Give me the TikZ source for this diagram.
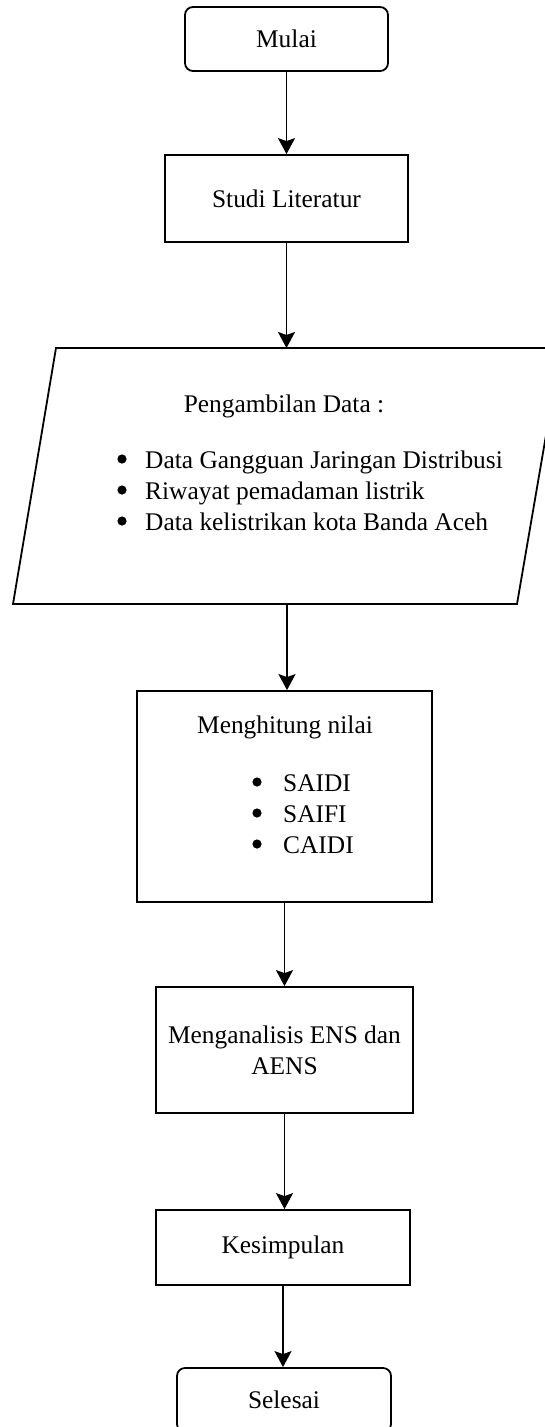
\documentclass[tikz,border=0pt]{standalone}
\usepackage{fontspec}
\setmainfont{Liberation Serif}
\usetikzlibrary{arrows.meta,calc}
\newcommand\fsz{\fontsize{25.4}{31}\selectfont}
\begin{document}
\begin{tikzpicture}[x=1pt,y=-1pt,
  box/.style={draw, line width=1.8pt, inner sep=0pt, font=\fsz, align=center},
  term/.style={box, rounded corners=8pt},
  txt/.style={inner sep=0pt, font=\fsz},
  edge/.style={line width=1.8pt},
  dot/.style={fill=black},
  arr/.style={line width=1.8pt, -{Stealth[length=16pt,width=17pt,inset=3pt]}}]
\useasboundingbox (0,0) rectangle (545,1427);
\clip (0,0) rectangle (545,1427);
\fill[white] (0,0) rectangle (545,1427);

% terminators and process boxes
\node[term, minimum width=203pt, minimum height=64pt] (mulai) at (286.5,39) {Mulai};
\node[box, minimum width=243pt, minimum height=87pt] (studi) at (286.5,198.5) {Studi Literatur};

% data (parallelogram)
\coordinate (pTL) at (56,348);
\coordinate (pTR) at (561,348);
\coordinate (pBR) at (517,604);
\coordinate (pBL) at (13,604);
\coordinate (pIn) at (287,348);
\coordinate (pOut) at (287,604);
\draw[edge] (pTL) -- (pTR) -- (pBR) -- (pBL) -- cycle;
\node[txt] (ptitle) at (284,406) {Pengambilan Data :};
\node[txt, anchor=west, align=left] (plist) at (145,491)
  {Data Gangguan Jaringan Distribusi\\
   Riwayat pemadaman listrik\\
   Data kelistrikan kota Banda Aceh};
\foreach \yy in {459,490,521} \fill[dot] (122,\yy) circle (4.6pt);

\node[box, minimum width=295pt, minimum height=211pt] (calc) at (284.5,796.5) {};
\node[txt] (ctitle) at (285,727) {Menghitung nilai};
\node[txt, anchor=west, align=left] (clist) at (283,814)
  {SAIDI\\SAIFI\\CAIDI};
\foreach \yy in {782,813,844} \fill[dot] (257,\yy) circle (4.6pt);

\node[box, minimum width=257pt, minimum height=126pt] (anal) at (284.5,1050)
  {Menganalisis ENS dan\\AENS};
\node[box, minimum width=254pt, minimum height=75pt] (kes) at (283,1247.5) {Kesimpulan};
\node[term, minimum width=214pt, minimum height=64pt] (sel) at (284,1400) {Selesai};

% connectors
\draw[arr] (mulai.south) -- (mulai.south |- studi.north);
\draw[arr] (studi.south) -- (studi.south |- pIn);
\draw[arr] (pOut) -- (pOut |- calc.north);
\draw[arr] (calc.south) -- (calc.south |- anal.north);
\draw[arr] (anal.south) -- (anal.south |- kes.north);
\draw[arr] (kes.south) -- (kes.south |- sel.north);
\end{tikzpicture}
\end{document}
